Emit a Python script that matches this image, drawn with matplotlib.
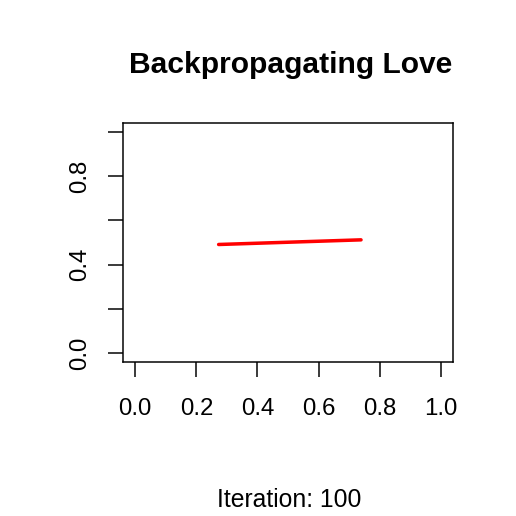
import matplotlib
matplotlib.use("Agg")
import matplotlib.pyplot as plt
import numpy as np

### data

line_x = [0.273, 0.739]
line_y = [0.491, 0.512]
ticks = [0.0, 0.2, 0.4, 0.6, 0.8, 1.0]
x_labels = ["0.0", "0.2", "0.4", "0.6", "0.8", "1.0"]
y_labels = ["0.0", "", "0.4", "", "0.8", ""]
title = "Backpropagating Love"
caption = "Iteration: 100"

### plot

plt.rcParams['font.family'] = ['Liberation Sans', 'DejaVu Sans']

fig = plt.figure(figsize=(516 / 72, 516 / 72), dpi=72)
ax = fig.add_axes([123 / 516, 1 - 362 / 516, 330 / 516, 239 / 516])

ax.plot(line_x, line_y, color='#ff0000', lw=3.5, solid_capstyle='round')

ax.set_xlim(-0.04, 1.04)
ax.set_ylim(-0.04, 1.04)
ax.set_xticks(ticks)
ax.set_xticklabels(x_labels)
ax.set_yticks(ticks)
ax.set_yticklabels(y_labels, rotation=90, va='center')
ax.tick_params(axis='both', length=15, width=1.5, labelsize=24, color='black')
ax.tick_params(axis='x', pad=21)
ax.tick_params(axis='y', pad=17)
for s in ax.spines.values():
	s.set_linewidth(1.5)

fig.text(291 / 516, 1 - 73 / 516, title, ha='center', va='baseline', fontsize=30, fontweight='bold')
fig.text(289 / 516, 1 - 507 / 516, caption, ha='center', va='baseline', fontsize=24.8)

fig.savefig('out.png', dpi=72)
